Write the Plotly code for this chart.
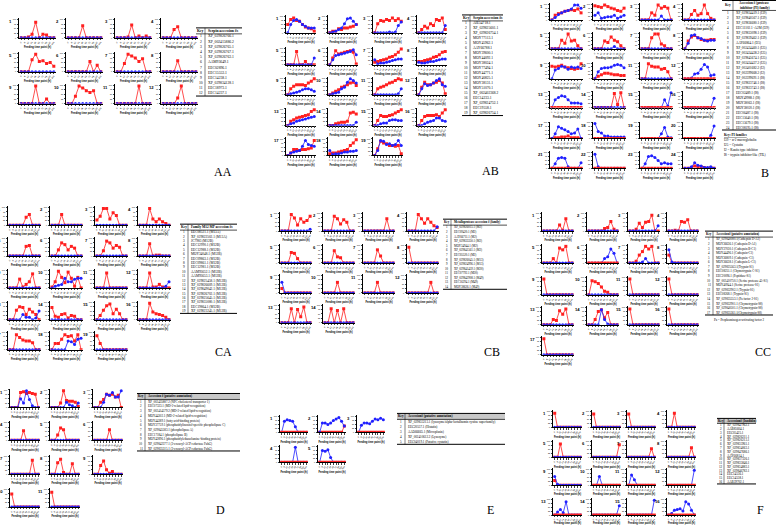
import plotly.graph_objects as go

# feeding time points shown under every mini chart
X_TICKS = ["0", "6", "12", "24", "36", "48", "72", "96", "120", "144"]
Z = [0, 0, 0, 0, 0, 0, 0, 0, 0, 0]

# AA - serpins (12 charts)
AA_RED = [
    [0, 0, 0.05, 0.2, 0.85, 0, 0.2, 0.15, 0, 0],
    [0, 0, 0, 0, 0.65, 0, 0, 0, 0, 0],
    [0, 0, 0, 0.05, 0.7, 0, 0.1, 0, 0.1, 0],
    [0, 0, 0, 0.45, 0.6, 0, 0, 0, 0, 0],
    [0, 0, 0, 0.65, 0.95, 0.55, 0.6, 0.45, 0.5, 0.3],
    [0, 0, 0, 0, 0, 0, 0.55, 0, 0.35, 0],
    [0, 0, 0.45, 0.95, 0.85, 0.75, 0.55, 0.7, 0, 0],
    [0, 0, 0, 0, 0.6, 0, 0, 0, 0, 0],
    [0, 0, 0, 0, 0.95, 0, 0, 0.25, 0, 0],
    [0, 0, 0.4, 0.95, 0.85, 0.7, 0.6, 0.7, 0, 0],
    [0, 0, 0, 0, 0, 0, 0.95, 0, 0, 0],
    [0, 0, 0, 0, 0.3, 0.95, 0, 0, 0, 0],
]
AA_BLUE = [Z] * 12

# AB - serpins (19 charts)
AB_RED = [
    [0.5, 0.8, 0.9, 0.75, 0.7, 0.5, 0.35, 0.3, 0.25, 0.1],
    [0, 0.1, 0.1, 0.25, 0.2, 0.3, 0.3, 0.35, 0.4, 0.5],
    [0, 0.55, 0.75, 0.7, 0.8, 0.75, 0.9, 0.75, 0.85, 0.7],
    [0, 0.2, 0.4, 0.3, 0.55, 0.45, 0.8, 0.75, 0.9, 0.2],
    [0, 0, 0, 0.8, 0, 0, 0.2, 0, 0, 0],
    [0, 0.4, 0.85, 0.65, 0.7, 0.75, 0.8, 0.85, 0.75, 0.05],
    [0.15, 0.2, 0.25, 0.3, 0.35, 0.45, 0.5, 0.6, 0.75, 0.95],
    [0.2, 0.2, 0.25, 0.3, 0.35, 0.45, 0.5, 0.6, 0.75, 0.8],
    [0, 0.35, 0.5, 0.6, 0.6, 0.6, 0.55, 0.7, 0.8, 0.95],
    [0, 0.1, 0.2, 0.3, 0.45, 0.5, 0.6, 0.7, 0.75, 0.55],
    [0, 0.35, 0.45, 0.5, 0.6, 0.7, 0.75, 0.85, 0.95, 0.9],
    [0, 0.45, 0.75, 0.6, 0.6, 0.7, 0.75, 0.85, 0.7, 0.05],
    [0, 0.25, 0.35, 0.45, 0.5, 0.55, 0.6, 0.65, 0.85, 0.95],
    [0, 0, 0.1, 0.15, 0.2, 0.2, 0.25, 0.75, 0.8, 0.7],
    [0, 0.3, 0.6, 0.55, 0.55, 0.6, 0.65, 0.75, 0.85, 0.95],
    [0, 0.3, 0.55, 0.6, 0.6, 0.6, 0.65, 0.55, 0.75, 0.95],
    [0, 0.15, 0.35, 0.35, 0.3, 0.35, 0.35, 0.4, 0.45, 0.9],
    [0.1, 0.15, 0.15, 0.2, 0.25, 0.3, 0.35, 0.6, 0.75, 0.95],
    [0, 0.4, 0.85, 0.75, 0.7, 0.6, 0.6, 0.55, 0.6, 0.1],
]
AB_BLUE = [
    [0, 0.5, 0.75, 0.8, 0.7, 0.5, 0.4, 0.3, 0.3, 0.3],
    [0, 0.05, 0.1, 0.2, 0.3, 0.55, 0.85, 0.9, 0.7, 0.5],
    [0, 0, 0, 0, 0, 0.05, 0, 0.05, 0.45, 0.65],
    [0, 0, 0, 0, 0, 0, 0, 0, 0, 0.45],
    [0, 0, 0, 0, 0, 0, 0, 0, 0, 0.4],
    [0, 0.3, 0.55, 0.6, 0.65, 0.7, 0.75, 0.8, 0.9, 0.6],
    [0.3, 0.05, 0.1, 0.1, 0.15, 0.2, 0.25, 0.3, 0.35, 0.35],
    [0.15, 0.1, 0.1, 0.15, 0.2, 0.2, 0.25, 0.3, 0.35, 0.35],
    [0, 0.05, 0.1, 0.15, 0.2, 0.3, 0.35, 0.35, 0.3, 0.2],
    [0, 0.05, 0.1, 0.15, 0.35, 0.45, 0.75, 0.95, 0.85, 0.7],
    [0, 0, 0, 0, 0, 0, 0, 0, 0.05, 0.35],
    [0, 0.35, 0.65, 0.55, 0.6, 0.7, 0.85, 0.95, 0.6, 0.5],
    [0, 0.1, 0.15, 0.25, 0.3, 0.35, 0.4, 0.45, 0.5, 0.55],
    [0, 0, 0, 0, 0, 0, 0, 0, 0, 0.2],
    [0, 0, 0.1, 0.15, 0.15, 0.3, 0.35, 0.35, 0.3, 0.3],
    [0, 0, 0.1, 0.2, 0.25, 0.3, 0.45, 0.45, 0.3, 0.25],
    [0, 0.15, 0.2, 0.25, 0.3, 0.55, 0.9, 0.65, 0.6, 0.55],
    [0.3, 0.05, 0.1, 0.1, 0.15, 0.2, 0.2, 0.25, 0.25, 0.3],
    [0, 0.3, 0.9, 0.85, 0.65, 0.7, 0.6, 0.65, 0.9, 0.6],
]

# B - protease inhibitors (24 charts)
B_RED = [
    [0, 0.3, 0.4, 0.45, 0.55, 0.6, 0.65, 0.6, 0.7, 0.45],
    [0.9, 0.85, 0.8, 0.95, 0.85, 0.75, 0.7, 0.6, 0.55, 0.75],
    [0, 0, 0, 0.45, 0.3, 0.95, 0.75, 0.85, 0.75, 0],
    [0, 0, 0.35, 0.6, 0.3, 0.4, 0.95, 0.4, 0.1, 0],
    [0, 0, 0, 0.55, 0.35, 0.95, 0.5, 0.55, 0.2, 0],
    [0, 0, 0, 0.5, 0.4, 0.75, 0.55, 0.45, 0.2, 0],
    [0, 0, 0, 0.7, 0.95, 0.95, 0.3, 0.2, 0, 0],
    [0, 0.5, 0.75, 0.85, 0.7, 0.6, 0.55, 0.55, 0.6, 0.6],
    [0.8, 0.75, 0.8, 0.85, 0.75, 0.7, 0.65, 0.6, 0.65, 0.95],
    [0, 0.15, 0.25, 0.35, 0.35, 0.3, 0.25, 0.25, 0.2, 0.2],
    [0, 0, 0.95, 0.8, 0.75, 0.75, 0.6, 0.65, 0.45, 0],
    Z,
    Z,
    [0, 0, 0, 0, 0, 0, 0.9, 0.2, 0.95, 0],
    Z,
    Z,
    [0, 0.05, 0.05, 0.1, 0.1, 0.15, 0.05, 0.05, 0.05, 0],
    Z,
    Z,
    Z,
    Z,
    Z,
    Z,
    [0, 0, 0.05, 0.15, 0.1, 0.1, 0.05, 0, 0.05, 0],
]
B_BLUE = [
    [0, 0.15, 0.35, 0.45, 0.55, 0.6, 0.7, 0.95, 0.95, 0.75],
    [0.3, 0.45, 0.1, 0.15, 0.2, 0.2, 0.3, 0.1, 0.2, 0.3],
    [0, 0, 0, 0, 0, 0, 0.25, 0, 0, 0],
    Z,
    Z,
    [0, 0, 0, 0, 0, 0, 0.15, 0, 0, 0],
    Z,
    [0, 0.35, 0.85, 0.9, 0.7, 0.65, 0.55, 0.5, 0.55, 0.55],
    [0, 0.55, 0.65, 0.8, 0.75, 0.6, 0.75, 0.7, 0.75, 0.65],
    [0, 0.45, 0.65, 0.7, 0.7, 0.75, 0.85, 0.9, 0.85, 0.7],
    Z,
    [0, 0, 0.05, 0.3, 0.35, 0.6, 0.9, 0.75, 0.2, 0.25],
    [0, 0.5, 0.65, 0.75, 0.7, 0.5, 0.3, 0.3, 0.3, 0.25],
    Z,
    [0, 0, 0, 0, 0, 0, 0, 0.5, 0.1, 0.95],
    [0, 0, 0, 0, 0, 0, 0, 0, 0, 0.6],
    [0, 0.3, 0.75, 0.65, 0.55, 0.45, 0.3, 0.35, 0.6, 0],
    [0.95, 0.45, 0.35, 0.15, 0.15, 0.1, 0.1, 0.1, 0.1, 0.1],
    [0, 0, 0, 0, 0, 0, 0.3, 0.7, 0.1, 0.05],
    [0, 0, 0, 0, 0, 0, 0, 0, 0.2, 0.8],
    [0, 0.3, 0.65, 0.7, 0.65, 0.1, 0, 0, 0, 0.35],
    [0.9, 0.1, 0, 0, 0, 0, 0, 0, 0, 0],
    [0, 0.3, 0.75, 0.8, 0.7, 0.5, 0.3, 0.35, 0.3, 0.3],
    [0, 0, 0.1, 0.35, 0.2, 0.15, 0.05, 0.05, 0.1, 0],
]

# CA - M12/M13 metalloproteases (19 charts)
CA_RED = [
    [0, 0, 0, 0, 0, 0.45, 0.6, 0, 0, 0],
    [0, 0, 0, 0.6, 0, 0, 0, 0, 0, 0],
    [0.3, 0.5, 0.95, 0.95, 0.35, 0.7, 0.55, 0, 0, 0],
    [0, 0, 0, 0.95, 0.35, 0.2, 0.35, 0.2, 0.1, 0],
    [0, 0, 0, 0, 0, 0.55, 0.6, 0, 0, 0],
    [0, 0, 0.35, 0.75, 0.65, 0.35, 0.55, 0.45, 0, 0],
    [0, 0, 0.3, 0.85, 0.75, 0.45, 0.6, 0.5, 0, 0],
    [0, 0, 0, 0.7, 0, 0.05, 0.05, 0, 0, 0],
    [0, 0, 0, 0.5, 0.05, 0.2, 0.35, 0.8, 0, 0],
    [0.05, 0.35, 0.95, 0.6, 0.3, 0.9, 0.55, 0.1, 0.6, 0],
    [0, 0, 0, 0.85, 0, 0, 0, 0, 0, 0],
    [0, 0, 0, 0.85, 0.05, 0.05, 0.2, 0.05, 0, 0],
    [0, 0, 0.55, 0.75, 0.7, 0.3, 0.6, 0.45, 0.3, 0],
    [0.7, 0.2, 0.15, 0.3, 0.35, 0.1, 0.25, 0.2, 0, 0],
    [0, 0.25, 0.55, 0.8, 0.9, 0.35, 0.6, 0.35, 0, 0],
    [0, 0, 0, 0.95, 0.45, 0.35, 0.3, 0.25, 0.15, 0],
    [0, 0, 0.85, 0.7, 0.55, 0.5, 0.5, 0.4, 0, 0],
    [0, 0.35, 0.35, 0.6, 0.85, 0.75, 0.8, 0.5, 0.85, 0],
    [0.8, 0.35, 0, 0, 0, 0, 0, 0, 0, 0],
]
CA_BLUE = [
    Z, Z, Z, Z, Z, Z, Z, Z, Z,
    [0, 0.1, 0.15, 0.2, 0.55, 0.35, 0.35, 0.5, 0.55, 0.55],
    Z,
    [0, 0, 0, 0, 0, 0, 0, 0, 0.1, 0.35],
    [0, 0, 0, 0, 0.3, 0.15, 0.15, 0, 0.1, 0.5],
    Z, Z, Z, Z,
    [0, 0, 0, 0, 0, 0.5, 0.45, 0.3, 0.6, 0.65],
    Z,
]

# CB - metalloproteases (14 charts)
CB_RED = [
    [0, 0, 0, 0.95, 0.75, 0.35, 0.7, 0.5, 0.6, 0.85],
    [0, 0, 0, 0.85, 0.7, 0.4, 0.65, 0.5, 0, 0],
    [0, 0, 0, 0, 0, 0, 0, 0.7, 0, 0],
    [0, 0, 0, 0.95, 0.7, 0.45, 0.7, 0.5, 0.3, 0.2],
    [0, 0, 0, 0.6, 0.55, 0.25, 0, 0, 0, 0],
    [0, 0, 0, 0.7, 0.35, 0.3, 0, 0, 0, 0],
    [0, 0, 0, 0, 0.75, 0.4, 0, 0, 0, 0],
    [0.9, 0, 0, 0, 0, 0, 0, 0, 0, 0],
    [0.25, 0, 0, 0, 0, 0, 0, 0, 0, 0],
    [0, 0, 0, 0, 0.6, 0, 0, 0, 0, 0],
    [0, 0, 0, 0, 0.6, 0, 0, 0, 0, 0],
    [0, 0, 0, 0, 0, 0, 0, 0.6, 0, 0],
    [0, 0, 0, 0.8, 0, 0.75, 0.35, 0.9, 0, 0],
    [0, 0, 0.8, 0, 0.7, 0, 0.8, 0, 0, 0],
]
CB_BLUE = [
    [0, 0, 0, 0, 0, 0, 0, 0, 0, 0.1],
    Z, Z,
    [0, 0, 0, 0, 0, 0, 0, 0, 0, 0.25],
    Z, Z, Z, Z,
    [0.6, 0, 0, 0, 0, 0, 0, 0, 0, 0],
    Z, Z, Z, Z, Z,
]

# CC - cathepsins / serine proteases (17 charts)
CC_RED = [
    [0, 0, 0, 0, 0, 0.35, 0.05, 0.7, 0, 0],
    [0, 0, 0, 0, 0, 0.15, 0.2, 0.55, 0.1, 0],
    [0, 0, 0.1, 0.45, 0.2, 0.5, 0.55, 0.9, 0, 0],
    [0, 0, 0.05, 0, 0.55, 0.5, 0.65, 0, 0, 0],
    [0, 0, 0, 0.25, 0, 0.85, 0.75, 0.95, 0, 0],
    Z,
    [0, 0, 0.1, 0.45, 0.65, 0.95, 0.8, 0.95, 0, 0],
    [0.45, 0, 0, 0, 0, 0, 0, 0, 0, 0],
    [0.9, 0, 0, 0, 0, 0, 0, 0, 0, 0],
    [0, 0.8, 0.75, 0.65, 0.45, 0.2, 0.15, 0, 0, 0],
    [0.9, 0, 0, 0, 0, 0, 0, 0, 0, 0],
    [0.9, 0, 0, 0, 0, 0, 0, 0, 0, 0],
    [0, 0, 0, 0.3, 0.25, 0.8, 0.6, 0.9, 0, 0],
    [0, 0, 0.3, 0.75, 0.85, 0.4, 0.7, 0, 0, 0],
    [0.9, 0, 0, 0, 0, 0, 0, 0, 0, 0],
    [0.9, 0, 0, 0, 0, 0, 0, 0, 0, 0],
    [0.9, 0, 0, 0, 0, 0, 0, 0, 0, 0],
]
CC_BLUE = [
    Z, Z,
    [0, 0, 0, 0, 0, 0, 0, 0, 0, 0.3],
    Z, Z,
    [0, 0, 0, 0, 0, 0.25, 0.35, 0.8, 0.55, 0],
    [0, 0, 0, 0, 0.05, 0.25, 0, 0, 0, 0],
    [0.75, 0.05, 0, 0, 0, 0, 0, 0, 0, 0],
    Z, Z, Z, Z, Z,
    [0, 0, 0, 0, 0.85, 0.3, 0.05, 0, 0, 0],
    Z, Z, Z,
]

# D - lipid related (11 charts)
D_RED = [
    [0, 0, 0, 0.85, 0.9, 0.8, 0.85, 0.8, 0.75, 0],
    [0, 0, 0, 0.25, 0.95, 0.4, 0.35, 0.35, 0.3, 0.05],
    [0, 0, 0.3, 0.45, 0.75, 0.7, 0.75, 0.6, 0.7, 0],
    [0, 0, 0, 0, 0.55, 0, 0, 0, 0, 0],
    [0, 0, 0.3, 0.7, 0.6, 0, 0, 0, 0, 0],
    [0, 0, 0, 0, 0, 0.6, 0, 0, 0, 0],
    [0, 0, 0, 0, 0, 0, 0, 0.8, 0, 0],
    [0, 0, 0.65, 0.85, 0.1, 0, 0, 0.6, 0, 0],
    [0, 0, 0.5, 0.75, 0.25, 0.05, 0.15, 0, 0, 0],
    [0.75, 0, 0, 0, 0, 0, 0, 0, 0, 0],
    [0.85, 0, 0, 0, 0, 0, 0, 0, 0, 0],
]
D_BLUE = [
    [0, 0, 0, 0.5, 0.25, 0.95, 0.45, 0.1, 0, 0],
    [0, 0, 0, 0, 0, 0.3, 0.15, 0.1, 0, 0.25],
    [0, 0, 0, 0.3, 0.75, 0.7, 0.85, 0.6, 0.6, 0.95],
    Z, Z, Z, Z, Z, Z, Z, Z,
]

# E - antimicrobial (5 charts)
E_RED = [
    Z,
    [0, 0, 0, 0, 0, 0, 0, 0, 0, 0.4],
    Z, Z, Z,
]
E_BLUE = [
    [0, 0.7, 0.8, 0.75, 0.7, 0.35, 0, 0, 0, 0],
    [0, 0.6, 0.6, 0.5, 0.6, 0.75, 0.85, 0.95, 0.7, 0.4],
    [0, 0.45, 0.6, 0.6, 0.55, 0.7, 0.85, 0.8, 0.9, 0.8],
    [0, 0, 0, 0, 0, 0.95, 0, 0, 0, 0],
    [0, 0.75, 0.7, 0.8, 0.3, 0, 0, 0, 0, 0],
]

# F - ixodidins (16 charts)
F_RED = [
    [0.9, 0, 0, 0, 0, 0, 0, 0, 0, 0],
    [0.85, 0, 0, 0, 0, 0, 0, 0, 0, 0],
    [0.85, 0, 0, 0, 0, 0, 0, 0, 0, 0],
    [0, 0, 0.9, 0, 0, 0, 0, 0, 0, 0],
    [0, 0, 0.85, 0, 0, 0, 0, 0, 0, 0],
    [0, 0, 0, 0, 0, 0, 0, 0, 0, 0.8],
    [0, 0, 0, 0, 0, 0, 0, 0, 0.55, 0],
    [0, 0, 0, 0, 0, 0, 0, 0, 0.6, 0],
    [0.3, 0, 0, 0, 0, 0, 0, 0, 0, 0],
    Z, Z, Z, Z, Z, Z, Z,
]
F_BLUE = [
    Z, Z, Z, Z, Z, Z, Z, Z,
    [0.55, 0.05, 0, 0, 0, 0, 0, 0, 0, 0],
    [0, 0, 0.55, 0, 0, 0, 0, 0, 0, 0],
    [0, 0.65, 0.35, 0, 0, 0, 0, 0, 0, 0],
    [0, 0, 0, 0, 0, 0, 0, 0, 0, 0.95],
    [0, 0.2, 0.35, 0.15, 0.85, 0, 0, 0, 0, 0],
    [0, 0, 0, 0, 0, 0, 0, 0, 0, 0.6],
    [0, 0, 0, 0, 0, 0, 0, 0, 0, 0.95],
    [0, 0.1, 0.3, 0.35, 0.4, 0.25, 0.85, 0.7, 0.3, 0],
]

# accession tables
AA_HEAD = "Serpin accession #s"
AA_ROWS = ["XP_029826766.1", "XP_002415886.2", "XP_029826765.1", "XP_029826767.1",
           "XP_029826763.1", "AAM93649.1", "EEC02896.1", "EEC15553.1", "EEC14238.1",
           "XP_029834128.1", "EEC18973.1", "EEC14237.1"]
AB_HEAD = "Serpin accession #s"
AB_ROWS = ["AIE54718.1", "XP_029825601.1", "XP_029826754.1", "MOY77113.1", "MOY45962.1",
           "AAY66788.1", "MOY39600.1", "MOY44092.1", "MOY38024.1", "MOY77494.1",
           "MOY44771.1", "MOY40825.1", "MOY38131.1", "MOY51070.1", "XP_002402368.2",
           "EEC14233.1", "XP_029824752.1", "EEC19558.1", "XP_029826754.1"]
B_HEAD = ["Accession # (protease", "inhibitor (PI) family)"]
B_ROWS = ["XP_029834419.1 (I39)", "XP_029840567.1 (I39)", "XP_029836680.1 (I39)",
          "EEC11102.1 -A2M (I39)", "XP_029833098.1 (I39)", "XP_029839462.1 (I39)",
          "AAY66864.1 (I25)", "XP_002434460.1 (I25)", "XP_002434438.2 (I25)",
          "XP_029845674.1 (I25)", "XP_002434437.2 (I25)", "XP_002401682.2 (I2)",
          "XP_002399668.2 (I2)", "XP_002399691.1 (I8)", "XP_029823746.1 (I8)",
          "XP_029823743.1 (I8)", "EEC02489.1 (I8)", "MOY49988.1 (I8)", "MOY38063.1 (I8)",
          "MOY38020.1 (I8)", "EEC06487.1 (I8)", "EEC15640.1 (I8)", "EEC15679.1 (I8)",
          "EEC08195.1 (I8)"]
B_NOTE = ["<b><u>Key: PI families</u></b>", "I39 = α-2 macroglobulin", "I25 = Cystatin",
          "I2 = Kunitz type inhibitor", "I8 = trypsin inhibitor-like (TIL)"]
CA_HEAD = "Family M12 MP accession #s"
CA_ROWS = ["EEC08521.1 (M13A)", "XP_029822502.1 (M13A)", "JC7983 (M12B)", "EEC12990.1 (M12B)",
           "EEC12988.1 (M12B)", "MOY34048.1 (M12B)", "EEC09863.1 (M12B)", "EEC09861.1 (M12B)",
           "EEC12981.1 (M12B)", "AAM93652.1 (M12B)", "AAM93653.1 (M12B)",
           "XP_029825458.1 (M12B)", "XP_029826609.1 (M12B)", "XP_029849042.1 (M12B)",
           "XP_029826702.1 (M12B)", "XP_029825645.1 (M12B)", "XP_029835080.1 (M12B)",
           "EEC19864.1 (M12B)", "XP_029823245.1 (M12B)"]
CB_HEAD = "Metalloprotease accession # (family)"
CB_ROWS = ["XP_029826015.1 (M2)", "EEC09420.1 (M2)", "AAY66711.1 (M2)", "XP_029833350.1 (M2)",
           "MOY34944.1 (M2)", "XP_029841561.1 (M2)", "EEC05520.1 (M2)", "XP_029826045.1 (M13)",
           "XP_029824996.1 (M13)", "XP_029841459.1 (M20)", "EEC07792.1 (M20)",
           "XP_029842908.1 (M49)", "EEC16294.1 (M49)", "MOY38626.1 (M49)"]
CC_HEAD = "Accession# (putative annotation)"
CC_ROWS = ["XP_029840080.1(Cathepsin D-A1)", "MOY36636.1 (Cathepsin D-A1)",
           "MOY37030.1 (Cathepsin B-C1)", "MOY44496.1 (Cathepsin-C1)",
           "MOY36809.1 (Cathepsin -C1)", "MOY36638.1 (Cathepsin L-C1)",
           "XP_029825563.1(Trypsin-S1)", "EEC08251.1 (Chymotrypsin C-S1)",
           "EEC20096.1 (Peptidase-S1)", "XP_002410750.1 (Serine protease 45-S1)",
           "MOY40944.1 (Serine protease-S1)", "XP_029832902.1 (Trypsin-S1)",
           "EEC08268.1 (Trypsin-S1)", "XP_029835553.1 (Pa factor 2-S1)",
           "XP_029832901.1 (Chymotrypsin-S8)", "XP_029840501.1 (Chymotrypsin-S8)",
           "XP_029835361.1(Chymotrypsin-S8)"]
CC_NOTE = "Pa = Proplasminogen-activating factor 2"
D_HEAD = "Accession # (putative annotation)"
D_ROWS = ["XP_002435887.2 (NPC cholesterol transporter 1)",
          "EEC07323.1 (MD-2-related lipid-recognition)",
          "XP_002414579.2 (MD-2-related lipid-recognition)",
          "MOY44302.1 (MD-2-related lipid-recognition)",
          "MOY44389.1 (fatty acid-binding protein)",
          "MOY37759.1 (phosphatidylinositol-specific phospholipase C)",
          "XP_029845583.1 (phospholipase A)", "EEC17184.1 (phospholipase B)",
          "MOY42896.1 (phosphatidylethanolamine-binding protein)",
          "XP_029842377.1 (3-oxoacyl-ACP reductase FabG)",
          "XP_029835315.1 (3-oxoacyl-ACP reductase FabG)"]
E_HEAD = "Accession# (putative annotation)"
E_ROWS = ["XP_029833213.1 (lysozyme/alpha-lactalbumin cystine superfamily)",
          "EEC20537.1 (Histatin)", "AAD66665.1 (Microplusin)",
          "XP_002410612.2 (Lysozyme)", "EEC04019.1 (Putative cystatin)"]
F_HEAD = "Accession# (Ixodidin)"
F_ROWS = ["XP_029847962.1", "AAB85604.1", "EEC05425.1", "XP_029826211.1", "XP_029826213.1",
          "XP_029833961.1", "XP_029834063.1", "XP_029847686.1", "AAY66814.1",
          "XP_029837326.1", "XP_029835846.1", "XP_029834883.1", "XP_029846782.1",
          "EEC14536.1", "EEC14538.1", "AAB39702.1"]

W, H = 777, 525
RED = "#ff2020"
BLUE = "#2020ff"
SANS = "Liberation Sans"
SERIF = "Liberation Serif"

fig = go.Figure()
layout = {}
annotations = []
shapes = []
k = 0


def px(x):
    return x / W


def py(y):
    return 1 - y / H


def add_mini(x0, y0, w, h, red, blue, num):
    global k
    k += 1
    xn = "x" if k == 1 else f"x{k}"
    yn = "y" if k == 1 else f"y{k}"
    series = [("red", red, RED, "square"), ("blue", blue, BLUE, "circle")]
    # the flat series sits on top along the baseline
    if max(blue) > 0 and max(red) == 0:
        series = series[::-1]
    for name, vals, col, sym in series:
        fig.add_trace(go.Scatter(
            x=list(range(len(vals))), y=vals, xaxis=xn, yaxis=yn,
            mode="lines+markers", showlegend=False, hoverinfo="skip",
            line=dict(color=col, width=0.8),
            marker=dict(color=col, symbol=sym, size=3, line=dict(width=0))))
    layout["xaxis" if k == 1 else f"xaxis{k}"] = dict(
        domain=[px(x0), px(x0 + w)], anchor=yn, range=[-0.6, 9.6],
        tickvals=list(range(10)), ticktext=X_TICKS, tickangle=-45,
        tickfont=dict(size=2.2, family=SANS, color="black"),
        ticks="outside", ticklen=1.5, tickwidth=0.5,
        showline=True, linewidth=0.8, linecolor="black",
        showgrid=False, zeroline=False,
        title=dict(text="<b>Feeding time point (h)</b>",
                   font=dict(size=2.6, family=SANS, color="black"), standoff=1))
    layout["yaxis" if k == 1 else f"yaxis{k}"] = dict(
        domain=[py(y0 + h), py(y0)], anchor=xn, range=[0, 1.08],
        tickvals=[0, 0.25, 0.5, 0.75, 1], ticktext=["0", "25", "50", "75", "100"],
        tickfont=dict(size=2, family=SANS, color="black"),
        ticks="outside", ticklen=1.5, tickwidth=0.5,
        showline=True, linewidth=0.8, linecolor="black",
        showgrid=False, zeroline=False)
    annotations.append(dict(
        x=px(x0 - 5), y=py(y0 - 1), xref="paper", yref="paper",
        text=f"<b>{num}</b>", showarrow=False, xanchor="right", yanchor="top",
        font=dict(size=4.2, family=SANS, color="black")))


def add_group(cols, rows, w, h, reds, blues):
    n = len(cols)
    for i, (r, b) in enumerate(zip(reds, blues)):
        add_mini(cols[i % n], rows[i // n], w, h, r, b, i + 1)


def line(x0, y0, x1, y1, width=0.7):
    shapes.append(dict(type="line", xref="paper", yref="paper",
                       x0=px(x0), y0=py(y0), x1=px(x1), y1=py(y1),
                       line=dict(color="black", width=width)))


def text(x, y, s, size=4, anchor="left", family=SERIF):
    annotations.append(dict(x=px(x), y=py(y), xref="paper", yref="paper", text=s,
                            showarrow=False, xanchor=anchor, yanchor="middle",
                            font=dict(size=size, family=family, color="black")))


def add_table(x0, sep, x1, top, head_h, row_h, head, rows, size=4, shade=False):
    if shade:
        shapes.append(dict(type="rect", xref="paper", yref="paper",
                           x0=px(x0), y0=py(top + head_h), x1=px(x1), y1=py(top),
                           fillcolor="#c8c8c8", line=dict(width=0)))
    line(x0, top, x1, top, 1)
    line(x0, top + head_h, x1, top + head_h, 0.7)
    bottom = top + head_h + row_h * len(rows)
    line(x0, bottom, x1, bottom, 1)
    line(sep, top, sep, bottom, 0.5)
    text((x0 + sep) / 2, top + head_h / 2, "<b>Key</b>", size, "center")
    if isinstance(head, list):
        for j, hl in enumerate(head):
            text((sep + x1) / 2, top + head_h * (j + 0.5) / len(head), f"<b>{hl}</b>", size, "center")
    else:
        text(sep + 1, top + head_h / 2, f"<b>{head}</b>", size)
    for i, r in enumerate(rows):
        yy = top + head_h + row_h * (i + 0.5)
        text((x0 + sep) / 2, yy, str(i + 1), size, "center")
        text(sep + 1, yy, r, size)
    return bottom


# mini chart grids
add_group([19, 66, 115, 161], [18, 52, 84], 37, 20, AA_RED, AA_BLUE)
add_group([286, 328, 373, 417], [15, 47, 77, 108, 138], 30, 18, AB_RED, AB_BLUE)
add_group([550, 593, 640, 683], [3, 32, 62, 91, 122, 152], 33, 17, B_RED, B_BLUE)
add_group([8, 50, 95, 138], [207, 238, 270, 302, 332], 33, 19, CA_RED, CA_BLUE)
add_group([280, 323, 363, 407], [213, 245, 275, 305], 32, 19, CB_RED, CB_BLUE)
add_group([542, 587, 628, 667], [213, 245, 277, 307, 337], 32, 19, CC_RED, CC_BLUE)
add_group([10, 50, 93], [390, 423, 457, 490], 30, 19, D_RED, D_BLUE)
add_group([280, 318, 357], [417, 447], 28, 17, E_RED, E_BLUE)
add_group([553, 592, 627, 667], [412, 442, 470, 500], 29, 17, F_RED, F_BLUE)

# tables
add_table(196, 205, 242, 28, 6, 5.2, AA_HEAD, AA_ROWS, size=3.7)
add_table(462, 470, 503, 15, 6, 5.0, AB_HEAD, AB_ROWS, size=3.6)
b_bottom = add_table(722, 733, 776, 0.5, 10, 5.0, B_HEAD, B_ROWS, size=3.3)
for i, s in enumerate(B_NOTE):
    text(722, b_bottom + 5 + i * 5, s, 3.3)
add_table(180, 188, 237, 225, 6, 4.4, CA_HEAD, CA_ROWS, size=3.4)
add_table(443, 451, 507, 220, 6, 4.6, CB_HEAD, CB_ROWS, size=3.0)
cc_bottom = add_table(705, 713, 773, 232, 6, 4.6, CC_HEAD, CC_ROWS, size=3.1)
text(739, cc_bottom + 5, CC_NOTE, 3.1, "center")
add_table(137, 145, 240, 395, 6, 4.7, D_HEAD, D_ROWS, size=3.1, shade=True)
add_table(397, 405, 505, 415, 6, 5.0, E_HEAD, E_ROWS, size=3.2, shade=True)
add_table(717, 724, 756, 420, 5, 3.8, F_HEAD, F_ROWS, size=3.2, shade=True)

# panel letters
for lab, lx, ly in [("AA", 223, 173), ("AB", 490, 172), ("B", 765, 174),
                    ("CA", 223, 353), ("CB", 492, 353), ("CC", 763, 353),
                    ("D", 220, 512), ("E", 490, 512), ("F", 760, 512)]:
    text(lx, ly, lab, 12, "center")

fig.update_layout(
    width=W, height=H, margin=dict(l=0, r=0, t=0, b=0),
    paper_bgcolor="white", plot_bgcolor="white",
    annotations=annotations, shapes=shapes, **layout)

# page body margin would shift the figure by 8px
fig.write_html("out.html", config={"displayModeBar": False},
               post_script="document.body.style.margin='0';")
